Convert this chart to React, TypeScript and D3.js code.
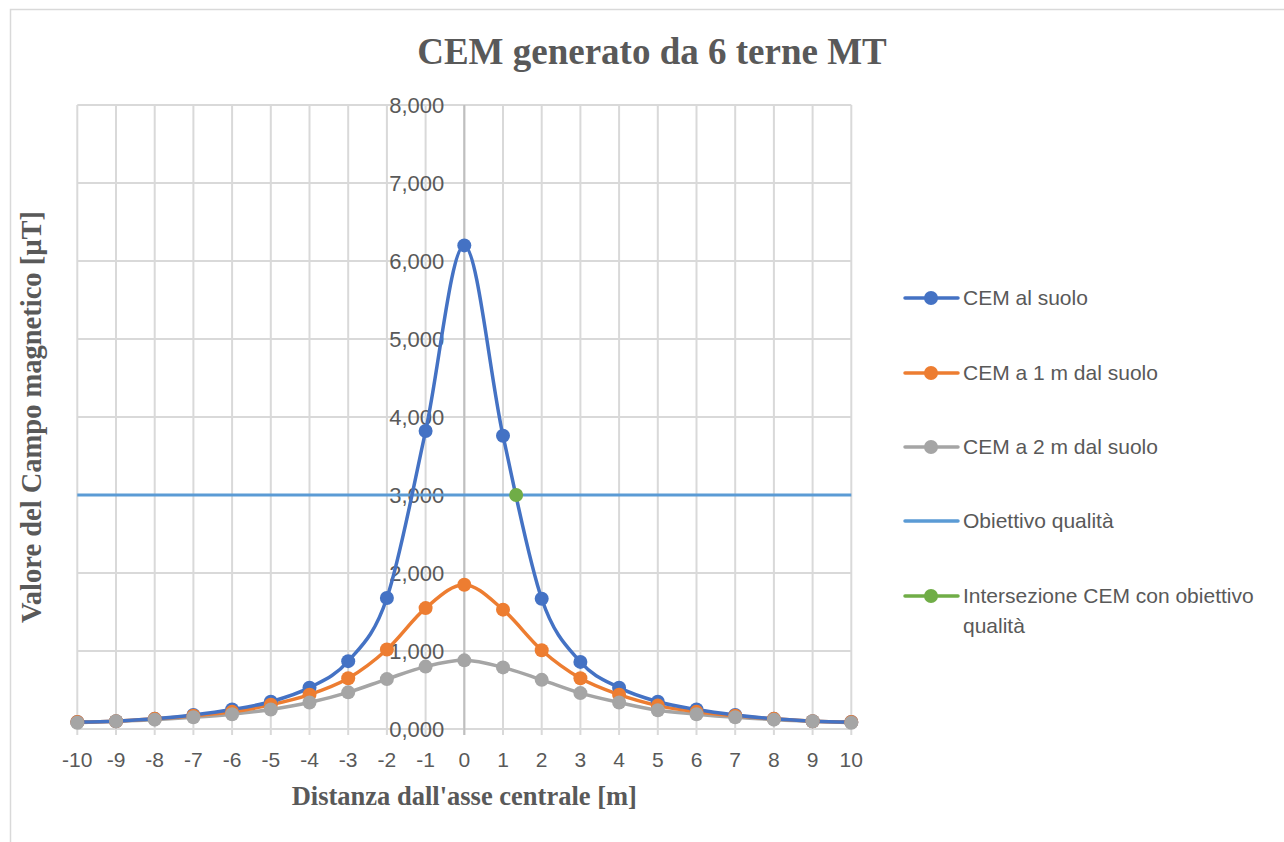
import { useEffect, useRef } from "react";
import * as d3 from "d3";

const distances = [-10, -9, -8, -7, -6, -5, -4, -3, -2, -1, 0, 1, 2, 3, 4, 5, 6, 7, 8, 9, 10];
const cemSuolo = [0.09, 0.10, 0.13, 0.18, 0.25, 0.35, 0.53, 0.87, 1.68, 3.82, 6.20, 3.76, 1.67, 0.86, 0.53, 0.35, 0.25, 0.18, 0.13, 0.10, 0.09];
const cem1m = [0.09, 0.10, 0.13, 0.17, 0.22, 0.31, 0.44, 0.65, 1.02, 1.55, 1.85, 1.53, 1.01, 0.65, 0.44, 0.30, 0.22, 0.17, 0.13, 0.10, 0.09];
const cem2m = [0.08, 0.10, 0.12, 0.15, 0.19, 0.25, 0.34, 0.47, 0.64, 0.80, 0.88, 0.79, 0.63, 0.46, 0.34, 0.24, 0.19, 0.15, 0.12, 0.10, 0.08];
const obiettivo = 3.0;
const intersezione = { x: 1.34, y: 3.0 };
const yTicks = [0, 1, 2, 3, 4, 5, 6, 7, 8];

const legendItems = [
    { label: ["CEM al suolo"], color: "#4472C4", marker: true },
    { label: ["CEM a 1 m dal suolo"], color: "#ED7D31", marker: true },
    { label: ["CEM a 2 m dal suolo"], color: "#A5A5A5", marker: true },
    { label: ["Obiettivo qualità"], color: "#5B9BD5", marker: false },
    { label: ["Intersezione CEM con obiettivo", "qualità"], color: "#70AD47", marker: true },
];

const itLocale = d3.formatLocale({ decimal: ",", thousands: ".", grouping: [3], currency: ["€", ""] });
const fmt = itLocale.format(".3f");

export default function App() {
    const svgRef = useRef<SVGSVGElement | null>(null);

    useEffect(() => {
        if (!svgRef.current) return;
        const svg = d3.select(svgRef.current);
        svg.selectAll("*").remove();

        const sans = "'Liberation Sans', Arial, sans-serif";
        const serif = "'Liberation Serif', 'Times New Roman', serif";
        const textCol = "#595959";

        const x = d3.scaleLinear().domain([-10, 10]).range([77.3, 851.3]);
        const y = d3.scaleLinear().domain([0, 8]).range([729, 105]);

        // chart frame
        svg.append("rect")
            .attr("x", 10.5).attr("y", 9.5)
            .attr("width", 1400).attr("height", 1000)
            .attr("fill", "white").attr("stroke", "#D9D9D9").attr("stroke-width", 1.5);

        // gridlines
        const grid = svg.append("g").attr("stroke", "#D9D9D9").attr("stroke-width", 2);
        grid.selectAll("line.h").data(yTicks.slice(1)).join("line")
            .attr("x1", x(-10)).attr("x2", x(10))
            .attr("y1", d => y(d)).attr("y2", d => y(d));
        grid.selectAll("line.v").data(distances).join("line")
            .attr("x1", d => x(d)).attr("x2", d => x(d))
            .attr("y1", y(8)).attr("y2", y(0) + 6);

        // axes lines
        svg.append("line")
            .attr("x1", x(-10)).attr("x2", x(10)).attr("y1", y(0)).attr("y2", y(0))
            .attr("stroke", "#D9D9D9").attr("stroke-width", 2);
        svg.append("line")
            .attr("x1", x(0)).attr("x2", x(0)).attr("y1", y(8)).attr("y2", y(0) + 6)
            .attr("stroke", "#BFBFBF").attr("stroke-width", 2);

        // y tick labels
        svg.append("g").selectAll("text").data(yTicks).join("text")
            .attr("x", x(0) - 20).attr("y", d => y(d))
            .attr("dy", "0.35em")
            .attr("text-anchor", "end")
            .attr("font-family", sans).attr("font-size", 22).attr("fill", textCol)
            .text(d => fmt(d));

        // x tick labels
        svg.append("g").selectAll("text").data(distances).join("text")
            .attr("x", d => x(d)).attr("y", y(0) + 31)
            .attr("dy", "0.35em")
            .attr("text-anchor", "middle")
            .attr("font-family", sans).attr("font-size", 21).attr("fill", textCol)
            .text(d => String(d));

        // objective line
        svg.append("line")
            .attr("x1", x(-10)).attr("x2", x(10))
            .attr("y1", y(obiettivo)).attr("y2", y(obiettivo))
            .attr("stroke", "#5B9BD5").attr("stroke-width", 3.2);

        const line = d3.line<number>()
            .x((_, i) => x(distances[i]))
            .y(d => y(d))
            .curve(d3.curveCatmullRom.alpha(0));

        const series = [
            { values: cem2m, color: "#A5A5A5" },
            { values: cem1m, color: "#ED7D31" },
            { values: cemSuolo, color: "#4472C4" },
        ];
        series.forEach(s => {
            svg.append("path")
                .datum(s.values)
                .attr("fill", "none")
                .attr("stroke", s.color)
                .attr("stroke-width", 3.5)
                .attr("d", line);
        });
        [...series].reverse().forEach(s => {
            svg.append("g").selectAll("circle").data(s.values).join("circle")
                .attr("cx", (_, i) => x(distances[i]))
                .attr("cy", d => y(d))
                .attr("r", 7)
                .attr("fill", s.color);
        });

        svg.append("circle")
            .attr("cx", x(intersezione.x)).attr("cy", y(intersezione.y))
            .attr("r", 7).attr("fill", "#70AD47");

        // title
        svg.append("text")
            .attr("x", 652).attr("y", 64)
            .attr("text-anchor", "middle")
            .attr("font-family", serif).attr("font-weight", "bold")
            .attr("font-size", 37).attr("fill", textCol)
            .text("CEM generato da 6 terne MT");

        // axis titles
        svg.append("text")
            .attr("x", x(0)).attr("y", 805)
            .attr("text-anchor", "middle")
            .attr("font-family", serif).attr("font-weight", "bold")
            .attr("font-size", 26.5).attr("fill", textCol)
            .text("Distanza dall'asse centrale [m]");
        svg.append("text")
            .attr("transform", `translate(41,417) rotate(-90)`)
            .attr("text-anchor", "middle")
            .attr("font-family", serif).attr("font-weight", "bold")
            .attr("font-size", 28.5).attr("fill", textCol)
            .text("Valore del Campo magnetico [µT]");

        // legend
        const rowY = [298, 373, 447, 521, 596];
        const legend = svg.append("g");
        legendItems.forEach((item, i) => {
            const g = legend.append("g").attr("transform", `translate(0,${rowY[i]})`);
            g.append("line")
                .attr("x1", 905).attr("x2", 958).attr("y1", 0).attr("y2", 0)
                .attr("stroke", item.color).attr("stroke-width", 3.5)
                .attr("stroke-linecap", "round");
            if (item.marker) {
                g.append("circle").attr("cx", 931).attr("cy", 0).attr("r", 7).attr("fill", item.color);
            }
            item.label.forEach((t, j) => {
                g.append("text")
                    .attr("x", 963).attr("y", j * 30)
                    .attr("dy", "0.35em")
                    .attr("font-family", sans).attr("font-size", 21).attr("fill", textCol)
                    .text(t);
            });
        });
    }, []);

    return (
        <svg ref={svgRef} width={1284} height={842}
            style={{ position: "absolute", left: 0, top: 0, background: "white" }} />
    );
}
